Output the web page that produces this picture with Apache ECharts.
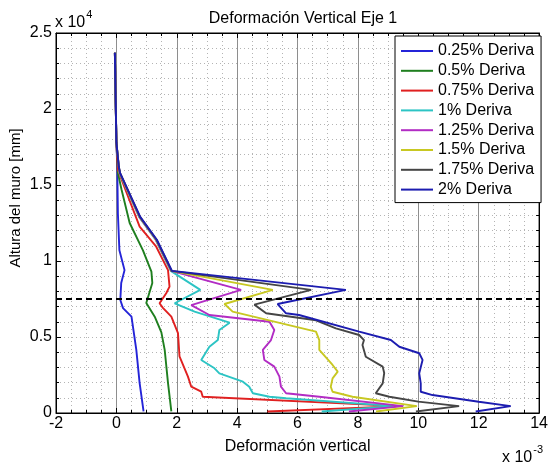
<!DOCTYPE html>
<html>
<head>
<meta charset="utf-8">
<script src="https://cdn.jsdelivr.net/npm/echarts@6/dist/echarts.min.js"></script>
<style>
  html, body { margin: 0; padding: 0; background: #fff; }
  #chart { width: 551px; height: 466px; }
</style>
</head>
<body>
<div id="chart"></div>
<script>
// Vertical strain (x 10^-3) against wall height (mm), one profile per drift level.
const seriesNames = [
  '0.25% Deriva', '0.5% Deriva', '0.75% Deriva', '1% Deriva',
  '1.25% Deriva', '1.5% Deriva', '1.75% Deriva', '2% Deriva'
];
const seriesColors = [
  '#2424d8', '#1f7f1f', '#e02020', '#2cc4c4',
  '#b22cc4', '#c8c822', '#454545', '#1c1cb0'
];

const drift025 = [
  [-0.05, 23700], [0, 18000], [0.03, 16000], [0.05, 13100], [0.1, 10700],
  [0.27, 9400], [0.16, 8550], [0.13, 7430], [0.22, 6900], [0.5, 6340],
  [0.66, 4150], [0.77, 1970], [0.9, 100]
];
const drift050 = [
  [-0.05, 23700], [0, 17800], [0.05, 15800], [0.17, 14700], [0.44, 12500],
  [0.88, 10700], [1.1, 9600], [1.16, 9300], [1.19, 8550], [0.99, 7240],
  [1.27, 6340], [1.49, 5300], [1.6, 4150], [1.71, 1970], [1.82, 100]
];
const drift075 = [
  [-0.05, 23700], [0, 17800], [0.05, 16000], [0.22, 15100], [0.77, 12260],
  [1.32, 10940], [1.71, 9400], [1.76, 8310], [1.65, 7880], [1.43, 7220],
  [1.54, 6920], [1.82, 6340], [2.04, 5260], [2.09, 3730], [2.37, 2390],
  [2.48, 1730], [2.81, 1400], [2.86, 1070], [9.4, 450], [5.0, 100]
];
const drift100 = [
  [-0.05, 23700], [0, 17800], [0.08, 16200], [0.1, 15800], [0.75, 12900],
  [1.3, 11400], [1.8, 9350], [2.78, 8100], [1.93, 7220], [2.59, 6670],
  [3.75, 5940], [3.41, 5460], [3.36, 4800], [3.08, 4360], [2.81, 3490],
  [3.25, 2940], [3.41, 2610], [4.19, 2060], [4.4, 1730], [4.52, 1300],
  [5.07, 1070], [5.62, 970], [9.2, 450], [6.8, 100]
];
const drift125 = [
  [-0.05, 23700], [0, 17800], [0.08, 16200], [0.11, 15800], [0.76, 12900],
  [1.31, 11400], [1.81, 9350], [4.13, 8100], [2.48, 7100], [3.08, 6450],
  [5.07, 6000], [5.23, 5460], [5.12, 4800], [4.85, 4150], [4.9, 3490],
  [5.23, 3050], [5.4, 2390], [5.45, 1730], [5.62, 1300], [6.72, 1070],
  [9.5, 450], [7.7, 100]
];
const drift150 = [
  [-0.05, 23700], [0, 17800], [0.08, 16200], [0.11, 15800], [0.77, 12900],
  [1.32, 11400], [1.82, 9350], [5.18, 8100], [3.58, 7170], [3.85, 6670],
  [6.61, 5350], [6.72, 4800], [6.72, 4150], [7.16, 3160], [7.33, 2720],
  [7.16, 2280], [7.1, 1730], [7.16, 1400], [7.82, 1070], [9.95, 450],
  [8.6, 100]
];
const drift175 = [
  [-0.05, 23700], [0, 17800], [0.08, 16200], [0.12, 15800], [0.78, 12900],
  [1.33, 11400], [1.83, 9350], [6.45, 8100], [4.57, 7130], [4.96, 6560],
  [6.61, 6100], [7.27, 5570], [8.04, 5130], [8.2, 4800], [8.15, 4470],
  [8.26, 3700], [8.82, 3050], [8.87, 2630], [8.82, 1950], [8.59, 1300],
  [9.04, 1070], [10.0, 750], [11.35, 450], [9.92, 100]
];
const drift200 = [
  [-0.05, 23700], [0, 17800], [0.08, 16200], [0.12, 15800], [0.79, 12900],
  [1.34, 11400], [1.84, 9350], [7.6, 8100], [5.34, 7170], [5.62, 6560],
  [6.05, 6450], [8.04, 5350], [9.09, 4800], [9.37, 4360], [10.03, 3930],
  [10.14, 3490], [10.03, 2610], [10.08, 1950], [10.08, 1400], [10.47, 1180],
  [12.0, 740], [13.06, 450], [11.9, 100]
];
const seriesData = [drift025, drift050, drift075, drift100, drift125, drift150, drift175, drift200];

// Height of the horizontal reference line (mm)
const referenceHeight = 7500;
const xTicks = { min: -2, max: 14, step: 2 };
const yTicks = { min: 0, max: 25000, step: 5000 };

const FONT = '"Liberation Sans", Arial, Helvetica, sans-serif';
const FS = 16;
const chart = echarts.init(document.getElementById('chart'), null, { renderer: 'canvas' });

const lineSeries = seriesNames.map((name, i) => ({
  name: name,
  type: 'line',
  data: seriesData[i],
  symbol: 'none',
  showSymbol: false,
  smooth: false,
  animation: false,
  lineStyle: { color: seriesColors[i], width: 1.9 },
  itemStyle: { color: seriesColors[i] },
  z: 3 + i
}));

lineSeries.push({
  name: 'referencia',
  type: 'line',
  data: [[xTicks.min, referenceHeight], [xTicks.max, referenceHeight]],
  symbol: 'none',
  animation: false,
  lineStyle: { color: '#000', width: 2, type: [6, 4] },
  z: 20
});

const tickStyle = { color: '#000', width: 1 };
const dotted = { color: '#b4b4b4', width: 1, type: [1, 3] };

chart.setOption({
  animation: false,
  backgroundColor: '#fff',
  textStyle: { fontFamily: FONT },
  title: {
    text: 'Deformación Vertical Eje 1',
    left: 298, top: 6, textAlign: 'center',
    textStyle: { fontFamily: FONT, fontSize: FS, fontWeight: 'normal', color: '#000' }
  },
  grid: {
    left: 56, right: 11, top: 33, bottom: 53,
    show: true, borderColor: '#000', borderWidth: 1, backgroundColor: '#fff'
  },
  legend: {
    data: seriesNames,
    orient: 'vertical',
    left: 395, top: 36,
    padding: [7, 7, 5, 6],
    itemWidth: 32, itemHeight: 14, itemGap: 3.8,
    backgroundColor: '#fff',
    borderColor: '#000', borderWidth: 1,
    textStyle: { fontFamily: FONT, fontSize: FS, color: '#000', lineHeight: 14 },
    icon: 'path://M0,7 L32,7 L32,9 L0,9 Z'
  },
  xAxis: [{
    type: 'value', min: xTicks.min, max: xTicks.max, interval: xTicks.step,
    position: 'bottom',
    axisLine: { show: true, onZero: false, lineStyle: { color: '#000' } },
    axisTick: { show: true, inside: true, length: 5, lineStyle: tickStyle },
    minorTick: { show: true, splitNumber: 4, length: 3, lineStyle: tickStyle },
    axisLabel: { color: '#000', fontSize: FS, fontFamily: FONT, margin: 3 },
    splitLine: { show: true, lineStyle: { color: '#8e8e8e', width: 1 } },
    minorSplitLine: { show: true, lineStyle: dotted },
    name: 'Deformación vertical', nameLocation: 'middle', nameGap: 26,
    nameTextStyle: { color: '#000', fontSize: FS, fontFamily: FONT }
  }, {
    type: 'value', min: xTicks.min, max: xTicks.max, interval: xTicks.step,
    position: 'top',
    axisLine: { show: true, onZero: false, lineStyle: { color: '#000' } },
    axisTick: { show: true, inside: true, length: 5, lineStyle: tickStyle },
    minorTick: { show: true, splitNumber: 4, length: 3, lineStyle: tickStyle },
    axisLabel: { show: false },
    splitLine: { show: false }
  }],
  yAxis: [{
    type: 'value', min: yTicks.min, max: yTicks.max, interval: yTicks.step,
    position: 'left',
    axisLine: { show: true, onZero: false, lineStyle: { color: '#000' } },
    axisTick: { show: true, inside: true, length: 5, lineStyle: tickStyle },
    minorTick: { show: true, splitNumber: 5, length: 3, lineStyle: tickStyle },
    axisLabel: {
      color: '#000', fontSize: FS, fontFamily: FONT, margin: 4,
      formatter: v => String(v / 10000)
    },
    splitLine: { show: true, lineStyle: dotted },
    minorSplitLine: { show: true, lineStyle: dotted }
  }, {
    type: 'value', min: yTicks.min, max: yTicks.max, interval: yTicks.step,
    position: 'right',
    axisLine: { show: true, onZero: false, lineStyle: { color: '#000' } },
    axisTick: { show: true, inside: true, length: 5, lineStyle: tickStyle },
    minorTick: { show: true, splitNumber: 5, length: 3, lineStyle: tickStyle },
    axisLabel: { show: false },
    splitLine: { show: false }
  }],
  graphic: [{
    type: 'text', left: 55, top: 9, z: 50,
    style: {
      text: '{b|x 10}{s|4}', fill: '#000',
      rich: {
        b: { fontSize: FS, fontFamily: FONT, padding: [6, 0, 0, 0] },
        s: { fontSize: 11, fontFamily: FONT, verticalAlign: 'top', padding: [0, 0, 8, 1] }
      }
    }
  }, {
    type: 'text', left: 502, top: 444, z: 50,
    style: {
      text: '{b|x 10}{s|-3}', fill: '#000',
      rich: {
        b: { fontSize: FS, fontFamily: FONT, padding: [6, 0, 0, 0] },
        s: { fontSize: 11, fontFamily: FONT, verticalAlign: 'top', padding: [0, 0, 8, 1] }
      }
    }
  }, {
    type: 'text', x: 16, y: 198, rotation: Math.PI / 2, z: 50,
    style: {
      text: 'Altura del muro [mm]', fill: '#000',
      fontSize: 15, fontFamily: FONT, align: 'center', verticalAlign: 'middle'
    }
  }],
  series: lineSeries
});
</script>
</body>
</html>
